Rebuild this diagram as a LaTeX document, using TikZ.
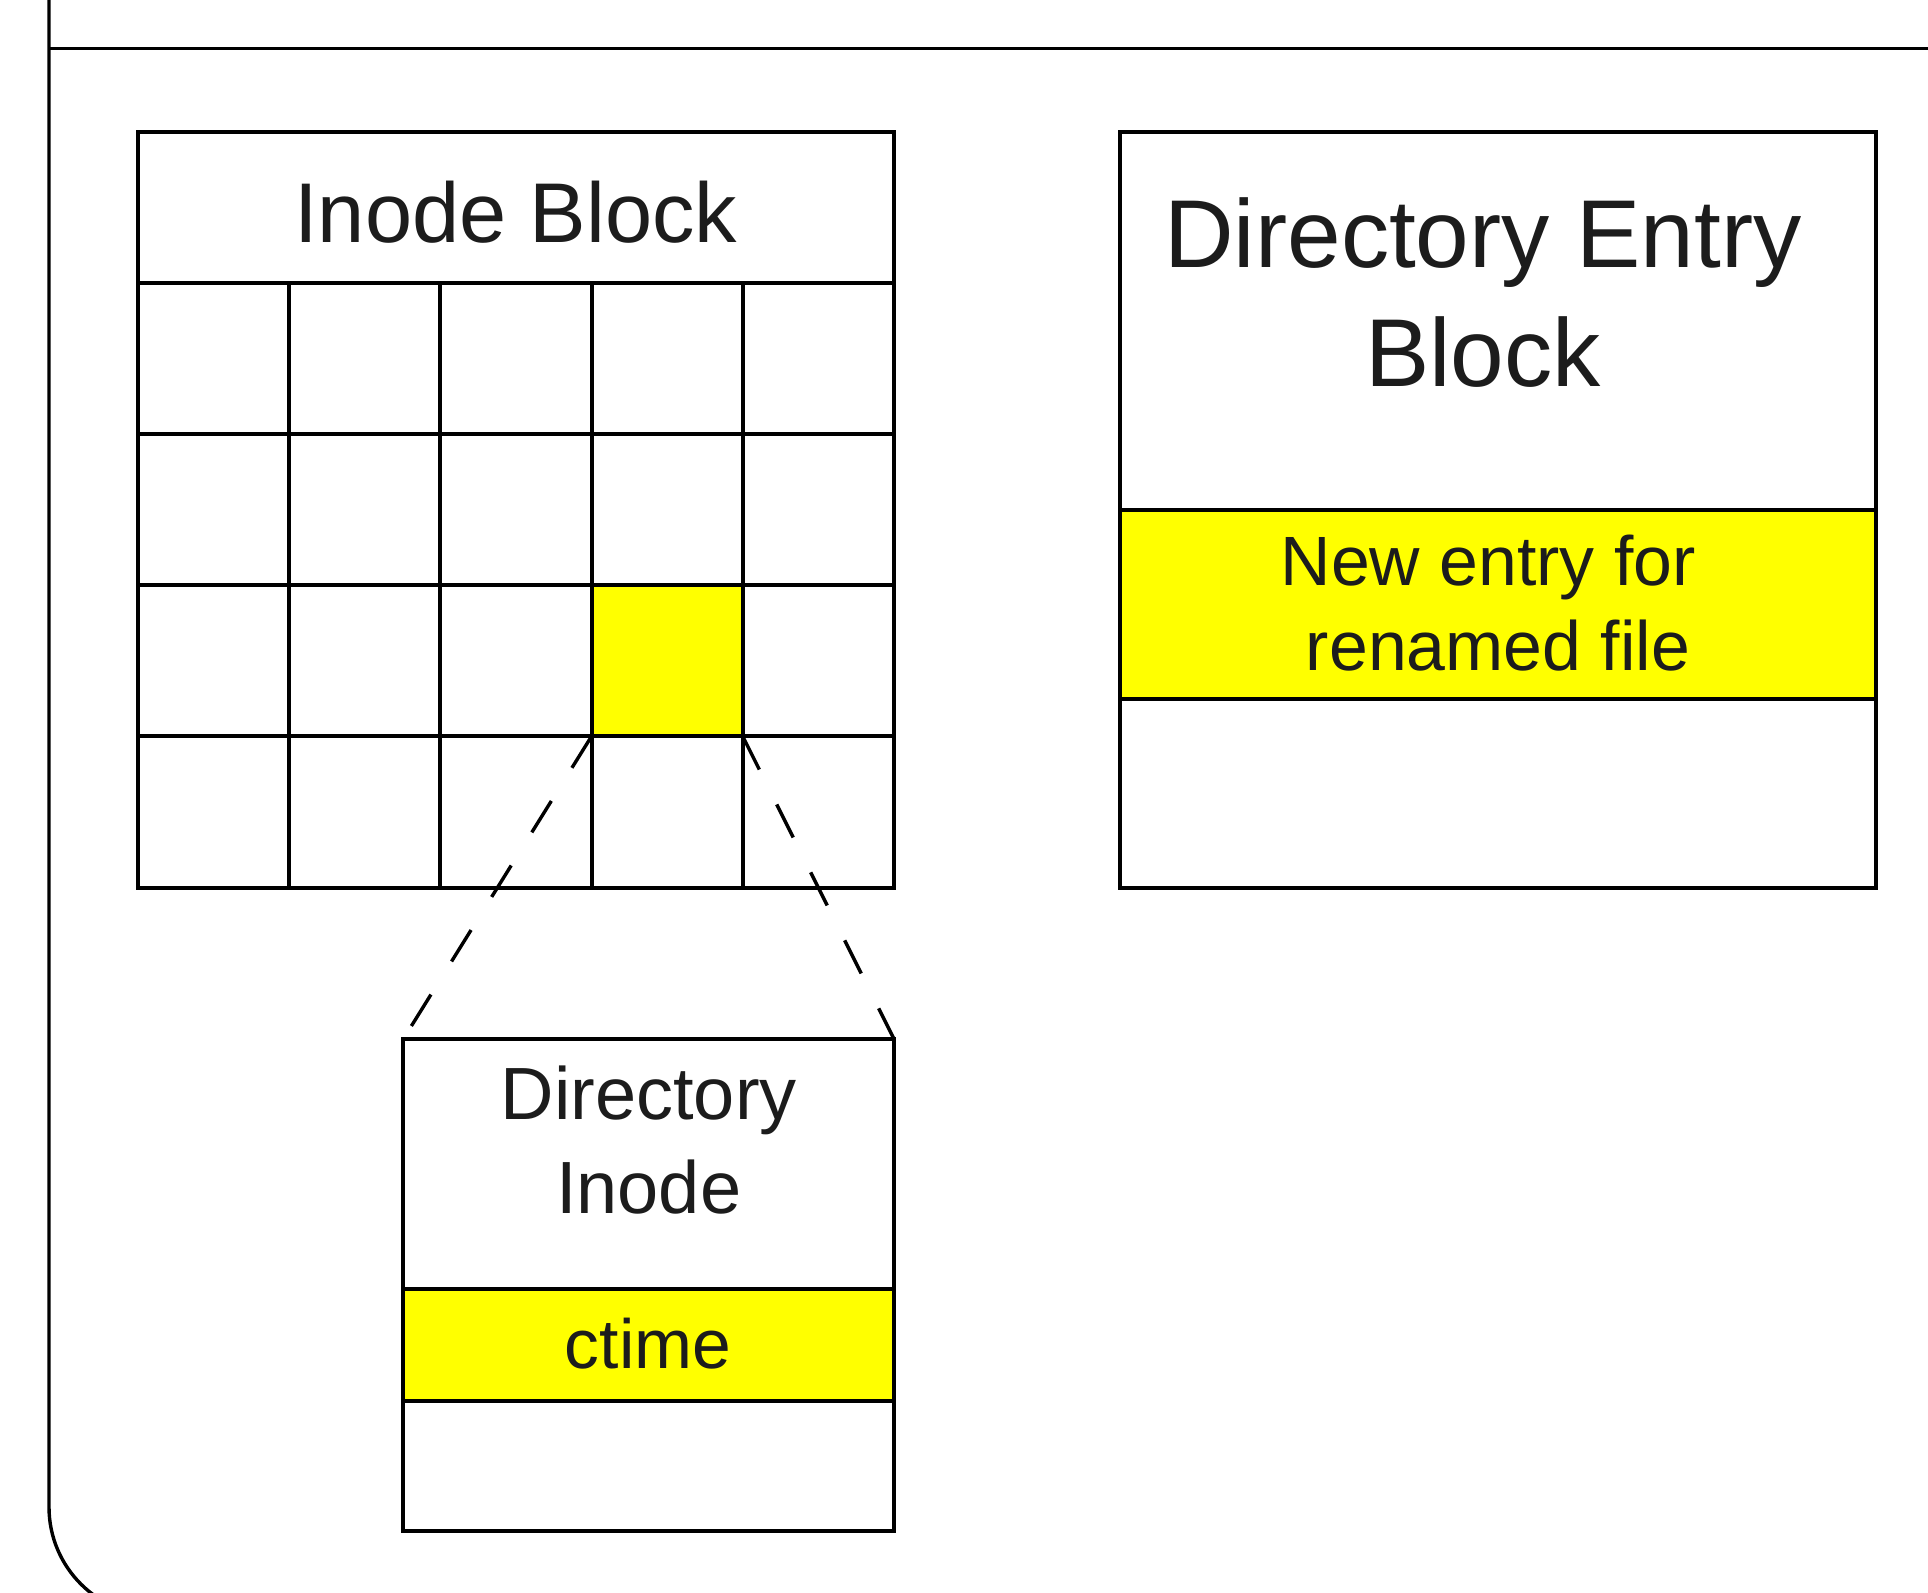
\documentclass[tikz,border=0pt]{standalone}
\usepackage{fontspec}
\setmainfont{Liberation Sans}
\definecolor{hiyellow}{RGB}{255,255,0}
\definecolor{inkgray}{RGB}{28,28,28}
\begin{document}
\begin{tikzpicture}[x=0.5pt,y=-0.5pt,
  frame/.style={draw=black,line width=1.7pt},
  grid/.style={draw=black,line width=2pt},
  hlfill/.style={fill=hiyellow,draw=none},
  hlcell/.style={hlfill,minimum width=75.63pt,minimum height=75.6pt,inner sep=0pt,outer sep=0pt},
  boxnode/.style={grid,inner sep=0pt,outer sep=0pt},
  label/.style={text=inkgray,inner sep=0pt,outer sep=0pt,align=center},
  dashline/.style={draw=black,line width=1.7pt,dash pattern=on 18.5pt off 19.5pt}
]
\clip (0,0) rectangle (1928,1592);
\fill[white] (0,0) rectangle (1928,1592);

% outer container with its rounded lower-left corner and header rule
\draw[frame,rounded corners=54.5pt] (49,-200) -- (49,1616) -- (2100,1616);
\draw[frame] (49,48.6) -- (2100,48.6);

% ---- Inode block: header row plus a 5 x 4 grid of inodes ----
\node[hlcell] (hl) at (667.1,660.8) {};
\draw[grid] (137.7,131.6) rectangle (894,887.6);
\foreach \y in {282.8,434,585.2,736.4}
  \draw[grid] (137.7,\y) -- (894,\y);
\foreach \x in {289,440.2,591.5,742.7}
  \draw[grid] (\x,282.8) -- (\x,887.6);
\node[label,anchor=north,font=\fontsize{42.4}{52}\selectfont] (ibtitle) at (515.9,181) {Inode Block};

% ---- Directory entry block ----
\fill[hiyellow] (1120,509.6) rectangle (1876.4,698.6);
\node[boxnode,minimum width=378.2pt,minimum height=378pt] (deblock) at (1498.2,509.6) {};
\draw[grid] (1120,509.6) -- (1876.4,509.6);
\draw[grid] (1120,698.6) -- (1876.4,698.6);
\node[label,anchor=north,font=\fontsize{48.2}{59.6}\selectfont] (detitle) at (1483,197.5) {Directory Entry\\Block};
\node[label,anchor=north,font=\fontsize{34.9}{42.8}\selectfont] (newentry) at (1498,534.5) {New entry for\kern0.28em\\renamed file};

% ---- Directory inode, shown enlarged ----
\fill[hiyellow] (403.3,1288.6) rectangle (894,1400.5);
\node[boxnode,minimum width=245.35pt,minimum height=245.95pt] (dinode) at (648.65,1284.95) {};
\draw[grid] (403.3,1288.6) -- (894,1288.6);
\draw[grid] (403.3,1400.5) -- (894,1400.5);
\node[label,anchor=north,font=\fontsize{37}{46.7}\selectfont] (ditext) at (648.7,1066) {Directory\\Inode};
\node[label,anchor=base,font=\fontsize{34.8}{42.8}\selectfont] (ctime) at (648,1368.5) {ctime};

% zoom lines from the highlighted inode to its enlarged view
\draw[dashline] (hl.south west) -- (dinode.north west);
\draw[dashline] (hl.south east) -- (dinode.north east);
\end{tikzpicture}
\end{document}
